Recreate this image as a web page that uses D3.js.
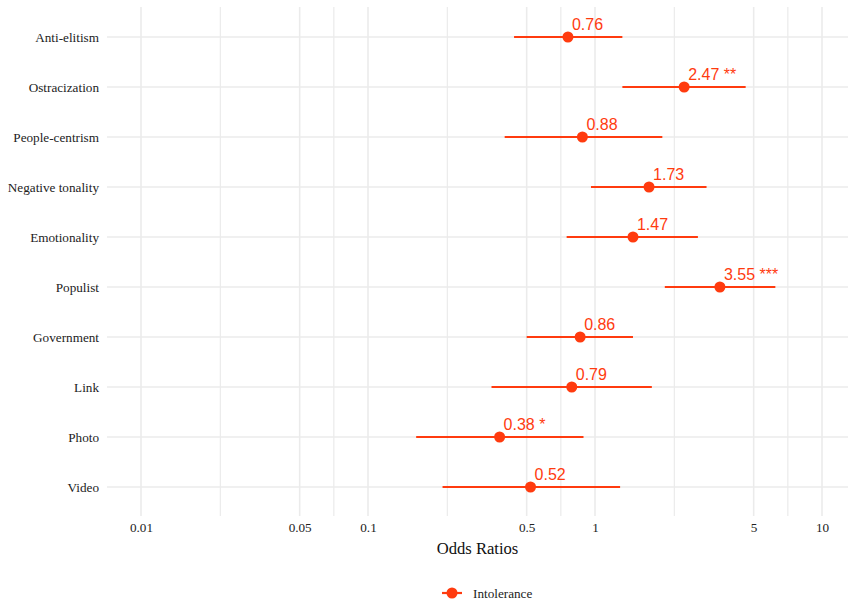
<!DOCTYPE html>
<html>
<head>
<meta charset="utf-8">
<script src="https://cdn.jsdelivr.net/npm/d3@7"></script>
<style>
  body { margin: 0; background: #fff; }
  svg { display: block; }
</style>
</head>
<body>
<svg width="849" height="603"></svg>
<script>
/* global d3 */

// chart values
const categories = ["Anti-elitism", "Ostracization", "People-centrism", "Negative tonality",
    "Emotionality", "Populist", "Government", "Link", "Photo", "Video"];
const oddsRatios = [0.76, 2.47, 0.88, 1.73, 1.47, 3.55, 0.86, 0.79, 0.38, 0.52];
const ciLow = [0.44, 1.32, 0.40, 0.96, 0.75, 2.03, 0.50, 0.35, 0.163, 0.213];
const ciHigh = [1.32, 4.61, 1.98, 3.10, 2.84, 6.23, 1.47, 1.78, 0.89, 1.29];
const stars = ["", "**", "", "", "", "***", "", "", "*", ""];
const tickValues = [0.01, 0.05, 0.1, 0.5, 1, 5, 10];
const tickLabels = ["0.01", "0.05", "0.1", "0.5", "1", "5", "10"];
const seriesName = "Intolerance";

const COLOR = "#ff3b0f";
const GRID = "#ebebeb";
const TEXT = "#222";
const SERIF = "'Liberation Serif', 'DejaVu Serif', serif";
const SANS = "'Liberation Sans', Arial, sans-serif";

const svg = d3.select("svg");
const panel = { left: 107, right: 848, top: 7, bottom: 516 };

const x = d3.scaleLog()
    .domain([0.01, 10])
    .range([141, 822]);

const y = d3.scalePoint()
    .domain(categories)
    .range([37, 487]);

// minor grid: midpoints between breaks in log space (like ggplot)
const minorBreaks = d3.pairs(tickValues).map(p => Math.sqrt(p[0] * p[1]));

const grid = svg.append("g");

grid.selectAll(".minor")
    .data(minorBreaks)
    .enter().append("line")
    .attr("x1", d => x(d))
    .attr("x2", d => x(d))
    .attr("y1", panel.top)
    .attr("y2", panel.bottom)
    .style("stroke", GRID)
    .style("stroke-width", 1.2);

grid.selectAll(".major-x")
    .data(tickValues)
    .enter().append("line")
    .attr("x1", d => x(d))
    .attr("x2", d => x(d))
    .attr("y1", panel.top)
    .attr("y2", panel.bottom)
    .style("stroke", GRID)
    .style("stroke-width", 1.6);

grid.selectAll(".major-y")
    .data(categories)
    .enter().append("line")
    .attr("x1", panel.left)
    .attr("x2", panel.right)
    .attr("y1", d => y(d))
    .attr("y2", d => y(d))
    .style("stroke", GRID)
    .style("stroke-width", 1.6);

// x axis: labels only
const xAxis = svg.append("g")
    .attr("transform", "translate(0," + panel.bottom + ")")
    .call(d3.axisBottom(x)
        .tickValues(tickValues)
        .tickFormat((d, i) => tickLabels[i])
        .tickSize(0)
        .tickPadding(7));
xAxis.select(".domain").remove();
xAxis.selectAll("text")
    .style("font-family", SERIF)
    .style("font-size", "13.2px")
    .attr("fill", TEXT);

// y axis
const yAxis = svg.append("g")
    .attr("transform", "translate(" + (panel.left - 8) + ",0)")
    .call(d3.axisLeft(y).tickSize(0).tickPadding(0));
yAxis.select(".domain").remove();
yAxis.selectAll("text")
    .style("font-family", SERIF)
    .style("font-size", "13.2px")
    .attr("fill", TEXT);

svg.append("text")
    .attr("x", (panel.left + panel.right) / 2)
    .attr("y", 554)
    .attr("text-anchor", "middle")
    .style("font-family", SERIF)
    .style("font-size", "16.6px")
    .attr("fill", "#111")
    .text("Odds Ratios");

const rows = categories.map((c, i) => ({
    name: c, or: oddsRatios[i], lo: ciLow[i], hi: ciHigh[i], star: stars[i]
}));

const marks = svg.append("g");

marks.selectAll(".ci")
    .data(rows)
    .enter().append("line")
    .attr("x1", d => x(d.lo))
    .attr("x2", d => x(d.hi))
    .attr("y1", d => y(d.name))
    .attr("y2", d => y(d.name))
    .style("stroke", COLOR)
    .style("stroke-width", 2.2);

marks.selectAll(".pt")
    .data(rows)
    .enter().append("circle")
    .attr("cx", d => x(d.or))
    .attr("cy", d => y(d.name))
    .attr("r", 5.5)
    .style("fill", COLOR);

marks.selectAll(".lbl")
    .data(rows)
    .enter().append("text")
    .attr("x", d => x(d.or) + 4)
    .attr("y", d => y(d.name) - 7)
    .style("font-family", SANS)
    .style("font-size", "16px")
    .attr("fill", COLOR)
    .text(d => d3.format(".2f")(d.or) + (d.star ? " " + d.star : ""));

// legend
const legend = svg.append("g").attr("transform", "translate(452,593)");
legend.append("line")
    .attr("x1", -10).attr("x2", 10)
    .style("stroke", COLOR)
    .style("stroke-width", 2.2);
legend.append("circle")
    .attr("r", 5.5)
    .style("fill", COLOR);
legend.append("text")
    .attr("x", 21)
    .attr("dy", "0.35em")
    .style("font-family", SERIF)
    .style("font-size", "13.2px")
    .attr("fill", TEXT)
    .text(seriesName);
</script>
</body>
</html>
